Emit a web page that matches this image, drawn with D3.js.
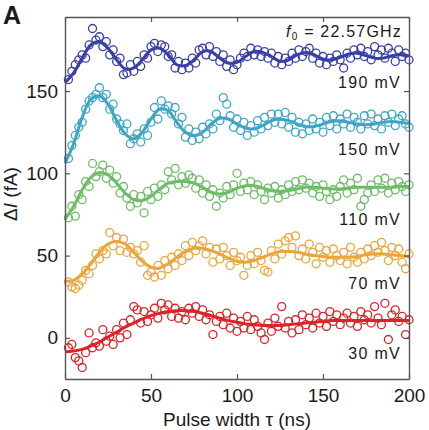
<!DOCTYPE html>
<html>
<head>
<meta charset="utf-8">
<script src="https://cdn.jsdelivr.net/npm/d3@7"></script>
<style>
  body { margin: 0; background: #fff; }
  text { font-family: "Liberation Sans", Arial, sans-serif; fill: #1a1a1a; }
</style>
</head>
<body>
<div id="chart"></div>
<script>
// Pulse widths of the measured points (ns)
const pulseWidths = d3.range(2, 201, 2);

const fitTimes = d3.range(0, 201, 5);

const labels = ['190 mV', '150 mV', '110 mV', '70 mV', '30 mV'];
const colors = ['#3a3fa6', '#3ea6c4', '#6dbd66', '#eba53a', '#dc2328'];
const labelValues = [88, 155, 225, 289, 359]; // baseline pixel of each label
const yTicks = [0, 50, 100, 150];
const xTicks = [0, 50, 100, 150, 200];

// Measured points
const points190 = [157, 162, 166, 169, 172, 170, 178, 188, 181, 183, 177, 180, 172, 175, 168, 170, 160, 161, 166, 162,
  168, 165, 172, 170, 177, 179, 174, 178, 177, 171, 172, 164, 168, 163, 167, 164, 170, 167, 175, 176,
  172, 177, 171, 174, 168, 172, 165, 169, 163, 166, 170, 173, 171, 176, 172, 175, 171, 174, 170, 173,
  167, 171, 166, 170, 168, 173, 170, 175, 171, 174, 176, 170, 173, 167, 171, 166, 170, 168, 172, 169,
  164, 173, 170, 175, 172, 176, 171, 174, 169, 177, 172, 175, 170, 176, 173, 168, 175, 171, 173, 169];
const points150 = [109, 117, 123, 128, 131, 139, 144, 146, 148, 152, 146, 148, 139, 142, 133, 130, 126, 130, 118, 121,
  124, 119, 127, 123, 131, 140, 133, 144, 139, 141, 136, 140, 130, 134, 122, 127, 120, 125, 121, 128,
  124, 130, 127, 136, 132, 146, 142, 135, 128, 133, 126, 131, 123, 129, 125, 132, 127, 134, 129, 136,
  131, 136, 130, 137, 128, 134, 125, 131, 124, 130, 126, 133, 127, 131, 125, 134, 129, 135, 127, 133,
  130, 136, 128, 134, 131, 127, 135, 130, 136, 129, 133, 127, 135, 131, 136, 129, 133, 135, 130, 128];
const points110 = [73, 80, 74, 87, 84, 95, 92, 106, 98, 101, 105, 97, 102, 94, 98, 88, 92, 85, 80, 87,
  82, 86, 76, 89, 84, 91, 86, 93, 90, 101, 96, 103, 93, 98, 94, 99, 97, 91, 96, 88,
  93, 86, 90, 80, 88, 85, 92, 87, 93, 100, 89, 94, 90, 95, 87, 93, 89, 84, 91, 88,
  92, 85, 90, 87, 93, 89, 95, 90, 96, 91, 94, 88, 92, 86, 93, 89, 84, 90, 86, 92,
  96, 88, 94, 90, 97, 80, 84, 88, 93, 89, 96, 91, 97, 88, 94, 90, 95, 92, 89, 93];
const points70 = [34, 31, 30, 32, 35, 41, 39, 44, 51, 48, 53, 51, 64, 56, 61, 53, 60, 52, 55, 51,
  53, 46, 56, 38, 40, 37, 44, 38, 47, 42, 49, 44, 51, 47, 56, 50, 58, 53, 56, 59,
  51, 55, 46, 54, 48, 55, 50, 44, 52, 47, 49, 38, 44, 50, 45, 52, 47, 41, 40, 53,
  48, 57, 51, 59, 61, 55, 62, 50, 54, 48, 57, 52, 45, 55, 49, 53, 46, 54, 50, 47,
  52, 45, 55, 49, 46, 52, 48, 54, 50, 56, 52, 58, 53, 47, 55, 50, 54, 46, 42, 51];
const points30 = [-6, -4, -12, -14, -18, -9, 3, -6, -3, -5, 5, -2, 1, -4, 5, 0, 9, 2, 11, 19,
  17, 9, 16, 10, 14, 18, 12, 21, 17, 20, 13, 18, 12, 16, 11, 18, 15, 19, 13, 17,
  11, 14, 2, 10, 13, 8, 15, 6, 12, 4, 10, 6, 13, 5, 11, 7, 3, -1, 9, 4,
  12, 7, 19, 6, 10, 3, 11, 5, 14, 8, 12, 6, 15, 9, 13, 7, 16, 10, 14, 8,
  12, 15, 9, 13, 7, 16, 11, 14, 9, 19, 12, 8, 21, -1, 14, 17, 10, 13, 2, 11];

// Fitted curves, read every 5 ns
const fit190 = [155, 161, 170, 178, 180, 176, 169, 163.5, 164, 169, 175, 176, 172, 166, 165.5, 169, 174, 174, 170, 167,
  167.5, 171, 174, 173.5, 171, 168, 169, 172, 173.5, 172, 169.5, 169, 170.5, 172.5, 173, 171.5, 170, 170, 171.5, 172, 171.5];
const fit150 = [106, 118, 134, 145, 147, 142, 132, 124, 121, 125, 133, 139, 138, 131, 125, 123, 125, 130, 133.5, 133,
  130, 127.5, 127, 129, 132, 133, 132, 130, 128.5, 128.5, 130, 131.5, 132, 131, 130, 129.5, 130, 131, 131.5, 131, 130.5];
const fit110 = [72, 80, 90, 97.5, 100.5, 99, 94, 88, 84, 83.5, 86, 90.5, 94, 95, 95, 94, 91.5, 88.5, 87.5, 88.5,
  91, 92.5, 92.5, 91, 89.5, 89, 89.5, 90.5, 91.5, 91.5, 91, 90.5, 90.5, 91, 91.5, 91.5, 91.5, 91.5, 91.5, 92, 92];
const fit70 = [34.5, 35, 39, 45, 52, 57, 58.5, 57, 52, 46.5, 43, 42.5, 45, 49, 52.5, 54.5, 54.5, 53, 51, 48.5,
  46.5, 46, 47, 49, 51, 52.5, 52.5, 52, 51, 50, 49.5, 49, 49, 49, 49.5, 50.5, 51, 51, 50.5, 50, 49.5];
const fit30 = [-8.5, -8, -7, -5, -2.5, 0.5, 3.5, 6.5, 9, 11.5, 13.5, 15, 16, 16.5, 16.5, 16, 15, 13.5, 12, 10.5,
  9.5, 8.5, 8, 7.5, 7.5, 7.5, 8, 8.5, 9, 9.5, 10, 10.5, 10.5, 10.5, 10.5, 10.5, 10.5, 10.5, 10.5, 10.5, 10.5];

const pointSets = [points190, points150, points110, points70, points30];
const fitSets = [fit190, fit150, fit110, fit70, fit30];

const width = 429;
const height = 430;
const margin = { top: 17, right: 20, bottom: 51, left: 65 };

const svg = d3.select('#chart').append('svg')
  .attr('width', width)
  .attr('height', height);

const xScale = d3.scaleLinear()
  .domain([0, 200])
  .range([margin.left, width - margin.right]);

const yScale = d3.scaleLinear()
  .domain([-25, 195])
  .range([height - margin.bottom, margin.top]);

const line = d3.line()
  .x((d, i) => xScale(fitTimes[i]))
  .y(d => yScale(d))
  .curve(d3.curveCatmullRom);

// Draw series from bottom to top
for (let s = pointSets.length - 1; s >= 0; s--) {
  const g = svg.append('g');

  g.selectAll('circle')
    .data(pointSets[s])
    .enter()
    .append('circle')
    .attr('cx', (d, i) => xScale(pulseWidths[i]))
    .attr('cy', d => yScale(d))
    .attr('r', 4)
    .attr('fill', 'none')
    .attr('stroke', colors[s])
    .attr('stroke-width', 1.3);

  g.append('path')
    .datum(fitSets[s])
    .attr('d', line)
    .attr('fill', 'none')
    .attr('stroke', colors[s])
    .attr('stroke-width', 3);

  svg.append('text')
    .attr('x', 401)
    .attr('y', labelValues[s])
    .attr('text-anchor', 'end')
    .attr('font-size', 16)
    .attr('letter-spacing', 1.3)
    .text(labels[s]);
}

// Axes box with inward ticks on all four sides
const axisColor = '#555';

const axBottom = svg.append('g')
  .attr('transform', `translate(0, ${height - margin.bottom})`)
  .call(d3.axisBottom(xScale).tickValues(xTicks).tickSizeInner(-5).tickSizeOuter(0).tickPadding(10));
const axTop = svg.append('g')
  .attr('transform', `translate(0, ${margin.top})`)
  .call(d3.axisTop(xScale).tickValues(xTicks).tickSizeInner(-5).tickSizeOuter(0).tickFormat(''));
const axLeft = svg.append('g')
  .attr('transform', `translate(${margin.left}, 0)`)
  .call(d3.axisLeft(yScale).tickValues(yTicks).tickSizeInner(-5).tickSizeOuter(0).tickPadding(7));
const axRight = svg.append('g')
  .attr('transform', `translate(${width - margin.right}, 0)`)
  .call(d3.axisRight(yScale).tickValues(yTicks).tickSizeInner(-5).tickSizeOuter(0).tickFormat(''));

[axBottom, axTop, axLeft, axRight].forEach(ax => {
  ax.select('.domain').attr('stroke', axisColor).attr('stroke-width', 1.4);
  ax.selectAll('.tick line').attr('stroke', axisColor).attr('stroke-width', 1.2);
  ax.selectAll('.tick text')
    .attr('font-size', 19)
    .attr('fill', '#1a1a1a')
    .style('font-family', '"Liberation Sans", Arial, sans-serif');
});

// Frequency note
const note = svg.append('text')
  .attr('x', 402)
  .attr('y', 37)
  .attr('text-anchor', 'end')
  .attr('font-size', 16)
  .attr('letter-spacing', 1.2);
note.append('tspan').attr('font-style', 'italic').text('f');
note.append('tspan').attr('font-size', 10).attr('dy', 3).text('0');
note.append('tspan').attr('dy', -3).text(' = 22.57GHz');

// Axis labels
svg.append('text')
  .attr('x', (margin.left + width - margin.right) / 2)
  .attr('y', 426)
  .attr('text-anchor', 'middle')
  .attr('font-size', 19)
  .text('Pulse width τ (ns)');

const yLabel = svg.append('text')
  .attr('transform', 'translate(17, 194) rotate(-90)')
  .attr('text-anchor', 'middle')
  .attr('font-size', 19);
yLabel.append('tspan').text('Δ');
yLabel.append('tspan').attr('font-style', 'italic').text('I');
yLabel.append('tspan').text(' (fA)');

// Panel letter
svg.append('text')
  .attr('x', 3)
  .attr('y', 24)
  .attr('font-size', 25)
  .attr('font-weight', 'bold')
  .style('font-family', '"Liberation Sans Narrow", "Liberation Sans", Arial, sans-serif')
  .text('A');
</script>
</body>
</html>
